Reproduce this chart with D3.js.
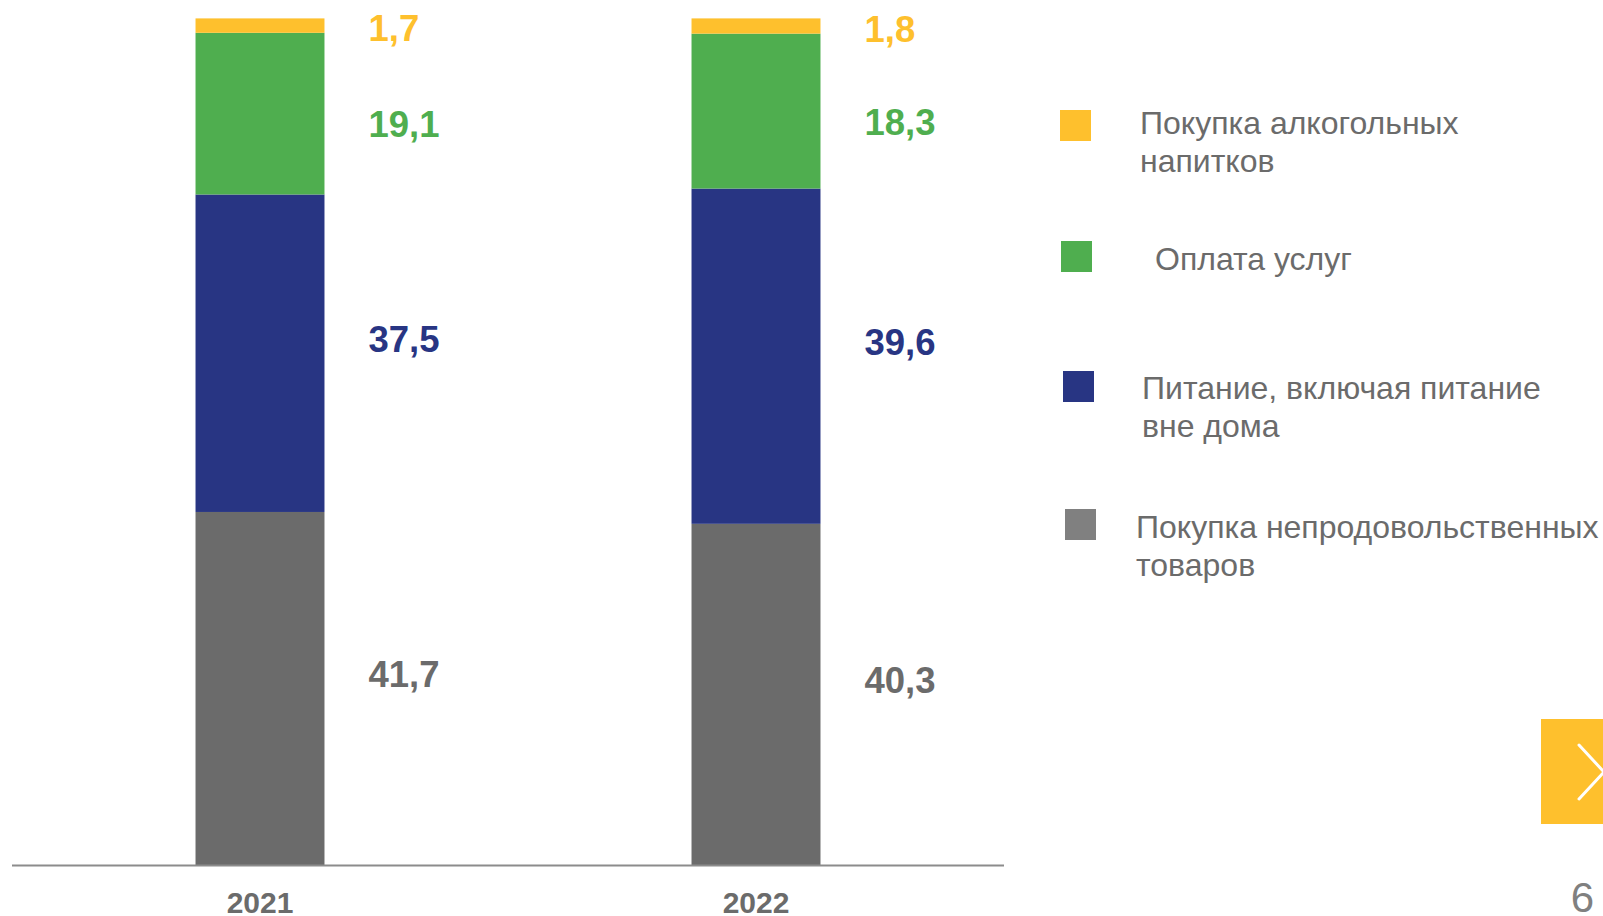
<!DOCTYPE html>
<html>
<head>
<meta charset="utf-8">
<script src="https://cdn.jsdelivr.net/npm/d3@7"></script>
<style>
  html, body { margin: 0; padding: 0; background: #fff; }
  svg { display: block; font-family: 'Liberation Sans', Arial, sans-serif; }
</style>
</head>
<body>
<div id="chart"></div>
<script>
// data
const years = ['2021', '2022'];
const series = ['nonfood', 'food', 'services', 'alcohol'];
const nonfood = [41.7, 40.3];
const food = [37.5, 39.6];
const services = [19.1, 18.3];
const alcohol = [1.7, 1.8];
const legendNames = [
  ['Покупка алкогольных', 'напитков'],
  ['Оплата услуг'],
  ['Питание, включая питание', 'вне дома'],
  ['Покупка непродовольственных', 'товаров'],
];
const legendKeys = ['alcohol', 'services', 'food', 'nonfood'];
const pageNumber = '6';

const colors = {
  nonfood: '#6b6b6b',
  food: '#283583',
  services: '#4fae4f',
  alcohol: '#fec02d',
};
// nudges of the value labels relative to the middle of their segment
const labelShift = { nonfood: -14, food: -14, services: 11, alcohol: 3 };

const width = 1603;
const height = 916;

const svg = d3
  .select('#chart')
  .append('svg')
  .attr('width', width)
  .attr('height', height)
  .attr('viewBox', `0 0 ${width} ${height}`);

const rows = years.map((y, i) => ({
  year: y,
  nonfood: nonfood[i],
  food: food[i],
  services: services[i],
  alcohol: alcohol[i],
}));

const stacked = d3.stack().keys(series)(rows);

const x = d3.scaleBand().domain(years).range([12, 1004]).paddingInner(0.74).paddingOuter(0.37);
const y = d3.scaleLinear().domain([0, 100]).range([865, 18.4]);

const bars = svg.append('g');

stacked.forEach((layer) => {
  bars
    .selectAll(`.seg-${layer.key}`)
    .data(layer)
    .enter()
    .append('rect')
    .attr('class', `seg-${layer.key}`)
    .attr('x', (d) => x(d.data.year))
    .attr('width', x.bandwidth())
    .attr('y', (d) => y(d[1]))
    .attr('height', (d) => y(d[0]) - y(d[1]))
    .attr('fill', colors[layer.key]);

  bars
    .selectAll(`.lbl-${layer.key}`)
    .data(layer)
    .enter()
    .append('text')
    .attr('class', `lbl-${layer.key}`)
    .attr('x', (d) => x(d.data.year) + x.bandwidth() + 44)
    .attr('y', (d) => (y(d[0]) + y(d[1])) / 2 + labelShift[layer.key])
    .attr('dominant-baseline', 'central')
    .style('font-size', '36.5px')
    .style('font-weight', 700)
    .attr('fill', colors[layer.key])
    .text((d) => String(d.data[layer.key]).replace('.', ','));
});

// baseline + year labels
svg
  .append('line')
  .attr('x1', 12)
  .attr('x2', 1004)
  .attr('y1', y(0) + 0.5)
  .attr('y2', y(0) + 0.5)
  .attr('stroke', '#8c8c8c')
  .attr('stroke-width', 2);

const xAxis = d3.axisBottom(x).tickSize(0).tickPadding(0);
const axisG = svg.append('g').attr('transform', `translate(0, ${y(0)})`).call(xAxis);
axisG.select('.domain').remove();
axisG
  .selectAll('text')
  .attr('dy', null)
  .attr('y', 48)
  .style('font-size', '30px')
  .style('font-weight', 700)
  .style('font-family', "'Liberation Sans', Arial, sans-serif")
  .attr('fill', '#6b6b6b');

// legend
const legendPos = [
  { sx: 1060, sy: 110, tx: 1140, ty: 123 },
  { sx: 1061, sy: 241, tx: 1155, ty: 259 },
  { sx: 1063, sy: 371, tx: 1142, ty: 388 },
  { sx: 1065, sy: 509, tx: 1136, ty: 527 },
];

const legend = svg.append('g');
legendKeys.forEach((key, i) => {
  const p = legendPos[i];
  legend
    .append('rect')
    .attr('x', p.sx)
    .attr('y', p.sy)
    .attr('width', 31)
    .attr('height', 31)
    .attr('fill', key === 'nonfood' ? '#808080' : colors[key]);
  const t = legend
    .append('text')
    .attr('x', p.tx)
    .attr('y', p.ty)
    .attr('dominant-baseline', 'central')
    .style('font-size', '32px')
    .attr('fill', '#6b6b6b');
  legendNames[i].forEach((line, j) => {
    t.append('tspan').attr('x', p.tx).attr('dy', j === 0 ? 0 : 38).text(line);
  });
});

// navigation box and page number
svg.append('rect').attr('x', 1541).attr('y', 719).attr('width', 62).attr('height', 105).attr('fill', '#fec02d');
svg
  .append('path')
  .attr('d', 'M1579,745 L1604,772 L1579,799')
  .attr('fill', 'none')
  .attr('stroke', '#fff')
  .attr('stroke-width', 3)
  .attr('stroke-linecap', 'round');

svg
  .append('text')
  .attr('x', 1594)
  .attr('y', 912)
  .attr('text-anchor', 'end')
  .style('font-size', '42px')
  .attr('fill', '#808080')
  .text(pageNumber);
</script>
</body>
</html>
